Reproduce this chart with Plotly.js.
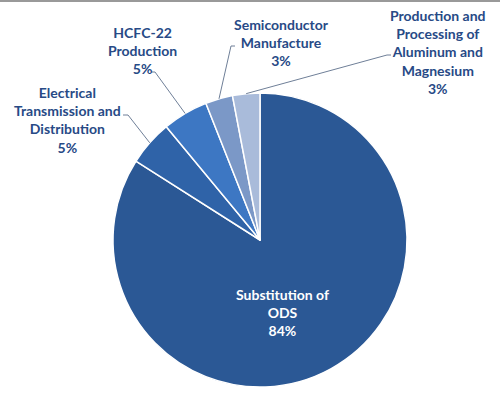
<!DOCTYPE html>
<html>
<head>
<meta charset="utf-8">
<script src="https://cdn.plot.ly/plotly-3.0.1.min.js"></script>
<style>html,body{margin:0;padding:0;background:#fff;}#chart{width:500px;height:399px;}</style>
</head>
<body>
<div id="chart"></div>
<script>
// ---- data ----
var categories = [
  "Substitution of<br>ODS",
  "Electrical<br>Transmission and<br>Distribution",
  "HCFC-22<br>Production",
  "Semiconductor<br>Manufacture",
  "Production and<br>Processing of<br>Aluminum and<br>Magnesium"
];
var values = [84, 5, 5, 3, 3];
var sliceColors = ["#2b5895", "#2f63a8", "#3d77c3", "#7b98c7", "#a9bbda"];

// ---- layout helpers ----
var W = 500, H = 399;
var cx = 260, cy = 240, R = 147;
function px2x(x){ return x / W; }
function px2y(y){ return 1 - y / H; }

// label centers (px) and leader elbows (px) for each slice
var labelPos = [[282, 312], [67, 120], [142, 50], [281, 42], [438, 52]];
var elbows = [null, [[128,115],[123,115]], [[155,72],[151,72]], [[231,46],[235,46]], [[387,55],[391,55]]];

var total = values.reduce(function(a,b){return a+b;}, 0);
var annotations = [];
var shapes = [{type:'rect', xref:'paper', yref:'paper', x0:0, x1:1, y0:px2y(2), y1:1, fillcolor:'#999999', line:{width:0}}];
var cum = 0;
for (var i = 0; i < values.length; i++) {
  var mid = (cum + values[i] / 2) / total * 2 * Math.PI;
  cum += values[i];
  var pct = Math.round(values[i] / total * 100) + '%';
  annotations.push({
    x: px2x(labelPos[i][0]), y: px2y(labelPos[i][1]), xref:'paper', yref:'paper',
    xanchor:'center', yanchor:'middle', showarrow:false, align:'center',
    text: '<b>' + categories[i] + '<br>' + pct + '</b>',
    font: {family:'Lato, "Open Sans", sans-serif', size:14, color: i === 0 ? '#ffffff' : '#274a86'}
  });
  if (elbows[i]) {
    var sx = cx + R * Math.sin(mid), sy = cy - R * Math.cos(mid);
    var p = 'M ' + px2x(sx) + ',' + px2y(sy) + ' L ' + px2x(elbows[i][0][0]) + ',' + px2y(elbows[i][0][1]) +
            ' L ' + px2x(elbows[i][1][0]) + ',' + px2y(elbows[i][1][1]);
    shapes.push({type:'path', xref:'paper', yref:'paper', path:p, line:{color:'#6f7f98', width:1}});
  }
}

var trace = {
  type:'pie', values: values, labels: categories, sort:false,
  direction:'clockwise', rotation:0, textinfo:'none', hoverinfo:'none',
  marker:{colors: sliceColors, line:{color:'#ffffff', width:1.5}},
  domain:{x:[(cx-R)/W, (cx+R)/W], y:[(H-cy-R)/H, (H-cy+R)/H]},
  showlegend:false
};

Plotly.newPlot('chart', [trace], {
  width: W, height: H, margin:{l:0,r:0,t:0,b:0},
  paper_bgcolor:'#ffffff', plot_bgcolor:'#ffffff',
  annotations: annotations, shapes: shapes, showlegend:false
}, {staticPlot:true});
</script>
</body>
</html>
